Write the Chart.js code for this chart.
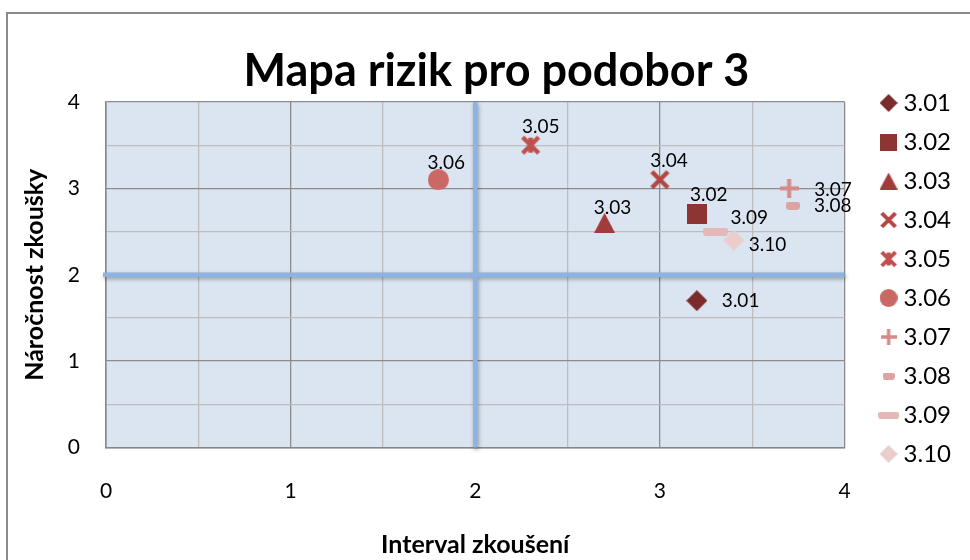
<!DOCTYPE html>
<html>
<head>
<meta charset="utf-8">
<script src="https://cdn.jsdelivr.net/npm/chart.js@4"></script>
<style>
  html, body { margin: 0; padding: 0; background: #fff; }
  #wrap { width: 970px; height: 560px; }
</style>
</head>
<body>
<div id="wrap"><canvas id="riskChart" width="970" height="560"></canvas></div>
<script>
// one point per sub-area: x = testing interval, y = test difficulty
const areas = ['3.01', '3.02', '3.03', '3.04', '3.05', '3.06', '3.07', '3.08', '3.09', '3.10'];
const interval = [3.2, 3.2, 2.7, 3.0, 2.3, 1.8, 3.7, 3.72, 3.3, 3.4];
const difficulty = [1.7, 2.7, 2.6, 3.1, 3.5, 3.1, 3.0, 2.8, 2.5, 2.4];
const axisTicks = [0, 1, 2, 3, 4];
const quadrantSplit = [2, 2];

const colors = ['#7a2b2a', '#8c3533', '#a13c3a', '#b34543', '#c0504d',
                '#c96865', '#d68a88', '#dba3a2', '#e3b8b7', '#ebcdcc'];
const shapes = ['diamond', 'square', 'triangle', 'x', 'star',
                'circle', 'plus', 'dash', 'longdash', 'diamond'];
// label placement next to each marker: [dx, dy, textAlign]
const labelPlacement = [
  [25, 0, 'left'], [12, -19, 'center'], [8, -15, 'center'], [9, -19, 'center'],
  [10, -18, 'center'], [8, -17, 'center'], [25, 1, 'left'], [21, 0, 'left'],
  [34, -14, 'center'], [15, 5, 'left']
];

const FONT = 'Lato';
const majorGrid = '#8c8c8c';
const minorGrid = '#bdbdbd';

function makeMarker(shape, color, k) {
  const sizes = {
    diamond: [21, 21], square: [20, 20], triangle: [21, 20], x: [21, 21], star: [21, 21],
    circle: [21, 21], plus: [19, 19], dash: [14, 8], longdash: [25, 8]
  };
  const w = Math.round(sizes[shape][0] * k);
  const h = Math.round(sizes[shape][1] * k);
  const c = document.createElement('canvas');
  c.width = w;
  c.height = h;
  const g = c.getContext('2d');
  g.fillStyle = color;
  g.strokeStyle = color;
  g.beginPath();
  if (shape === 'diamond') {
    g.moveTo(w / 2, 0); g.lineTo(w, h / 2); g.lineTo(w / 2, h); g.lineTo(0, h / 2);
    g.closePath(); g.fill();
  } else if (shape === 'square') {
    g.fillRect(0, 0, w, h);
  } else if (shape === 'triangle') {
    g.moveTo(w / 2, 0); g.lineTo(w, h); g.lineTo(0, h);
    g.closePath(); g.fill();
  } else if (shape === 'x' || shape === 'star') {
    const m = 2.5 * k;
    g.lineWidth = 4.5 * k;
    g.moveTo(m, m); g.lineTo(w - m, h - m);
    g.moveTo(w - m, m); g.lineTo(m, h - m);
    if (shape === 'star') {
      g.moveTo(w / 2, 3 * k); g.lineTo(w / 2, h - 3 * k);
    }
    g.stroke();
  } else if (shape === 'circle') {
    g.arc(w / 2, h / 2, w / 2, 0, Math.PI * 2);
    g.fill();
  } else if (shape === 'plus') {
    g.lineWidth = 4 * k;
    g.moveTo(w / 2, 0); g.lineTo(w / 2, h);
    g.moveTo(0, h / 2); g.lineTo(w, h / 2);
    g.stroke();
  } else {
    g.roundRect(0, 0, w, h, h / 2.5);
    g.fill();
  }
  return c;
}

const chartMarkers = shapes.map((s, i) => makeMarker(s, colors[i], 1));
const legendMarkers = shapes.map((s, i) => makeMarker(s, colors[i], 0.85));

const frame = {
  id: 'frame',
  beforeDraw(chart) {
    const {ctx, chartArea} = chart;
    ctx.save();
    ctx.fillStyle = '#ffffff';
    ctx.fillRect(0, 0, chart.width, chart.height);
    ctx.strokeStyle = '#8a8a8a';
    ctx.lineWidth = 2;
    ctx.beginPath();
    ctx.moveTo(7, chart.height);
    ctx.lineTo(7, 13);
    ctx.lineTo(chart.width, 13);
    ctx.stroke();
    ctx.fillStyle = '#dbe5f1';
    ctx.fillRect(chartArea.left, chartArea.top, chartArea.width, chartArea.height);
    ctx.restore();
  }
};

const quadrants = {
  id: 'quadrants',
  beforeDatasetsDraw(chart) {
    const {ctx, chartArea, scales} = chart;
    const px = scales.x.getPixelForValue(quadrantSplit[0]);
    const py = scales.y.getPixelForValue(quadrantSplit[1]);
    ctx.save();
    ctx.strokeStyle = '#8db3e2';
    ctx.lineWidth = 4.5;
    ctx.shadowColor = 'rgba(0, 0, 0, 0.35)';
    ctx.shadowBlur = 4;
    ctx.shadowOffsetX = 1;
    ctx.shadowOffsetY = 2;
    ctx.beginPath();
    ctx.moveTo(chartArea.left - 3, py);
    ctx.lineTo(chartArea.right, py);
    ctx.moveTo(px, chartArea.top);
    ctx.lineTo(px, chartArea.bottom);
    ctx.stroke();
    ctx.restore();
  }
};

const pointLabels = {
  id: 'pointLabels',
  afterDatasetsDraw(chart) {
    const ctx = chart.ctx;
    ctx.save();
    ctx.font = '19px ' + FONT;
    ctx.fillStyle = '#000';
    ctx.textBaseline = 'middle';
    chart.data.datasets.forEach((ds, i) => {
      const pt = chart.getDatasetMeta(i).data[0];
      const [dx, dy, align] = labelPlacement[i];
      ctx.textAlign = align;
      ctx.fillText(ds.label, pt.x + dx, pt.y + dy);
    });
    ctx.restore();
  }
};

function gridColor(c) {
  if (!c.tick) return majorGrid;
  return Number.isInteger(c.tick.value) ? majorGrid : minorGrid;
}

function tickLabel(v) {
  return axisTicks.includes(v) ? String(v) : '';
}

new Chart(document.getElementById('riskChart'), {
  type: 'scatter',
  data: {
    datasets: areas.map((name, i) => ({
      label: name,
      data: [{x: interval[i], y: difficulty[i]}],
      pointStyle: chartMarkers[i],
      pointRadius: 10,
      backgroundColor: colors[i],
      borderColor: colors[i]
    }))
  },
  options: {
    responsive: false,
    animation: false,
    devicePixelRatio: 1,
    layout: { padding: { left: 32, right: 9, top: 0, bottom: 3 } },
    scales: {
      x: {
        type: 'linear', min: 0, max: 4,
        ticks: {
          stepSize: 0.5, autoSkip: false, padding: 31, color: '#000',
          font: { family: FONT, size: 21 }, callback: tickLabel
        },
        grid: { color: gridColor, lineWidth: 1.3, drawTicks: false },
        border: { display: true, color: '#868686', width: 1.5 },
        title: {
          display: true, text: 'Interval zkoušení', color: '#000',
          font: { family: FONT, size: 25, weight: 'bold' },
          padding: { top: 0, bottom: -3 }
        },
        afterFit(scale) { scale.height = 109.5; }
      },
      y: {
        type: 'linear', min: 0, max: 4,
        ticks: {
          stepSize: 0.5, autoSkip: false, padding: 26, color: '#000',
          font: { family: FONT, size: 21 }, callback: tickLabel
        },
        grid: { color: gridColor, lineWidth: 1.3, drawTicks: false },
        border: { display: true, color: '#868686', width: 1.5 },
        title: {
          display: true, text: 'Náročnost zkoušky', color: '#000',
          font: { family: FONT, size: 25, weight: 'bold' },
          padding: { top: -12, bottom: 0 }
        },
        afterFit(scale) { scale.width = 74; }
      },
      gap: {
        type: 'linear', position: 'right', display: true,
        grid: { display: false }, border: { display: false }, ticks: { display: false },
        afterFit(scale) { scale.width = 26; }
      }
    },
    plugins: {
      title: {
        display: true, text: 'Mapa rizik pro podobor 3', color: '#000',
        font: { family: FONT, size: 45, weight: 'bold' },
        padding: { top: 44, bottom: 4 }
      },
      legend: {
        position: 'right',
        labels: {
          usePointStyle: true, boxWidth: 6, boxHeight: 6, padding: 15, color: '#000',
          font: { family: FONT, size: 24 },
          generateLabels(chart) {
            const items = Chart.defaults.plugins.legend.labels.generateLabels(chart);
            items.forEach((it, i) => { it.pointStyle = legendMarkers[i]; });
            return items;
          }
        }
      },
      tooltip: { enabled: false }
    }
  },
  plugins: [frame, quadrants, pointLabels]
});
</script>
</body>
</html>
